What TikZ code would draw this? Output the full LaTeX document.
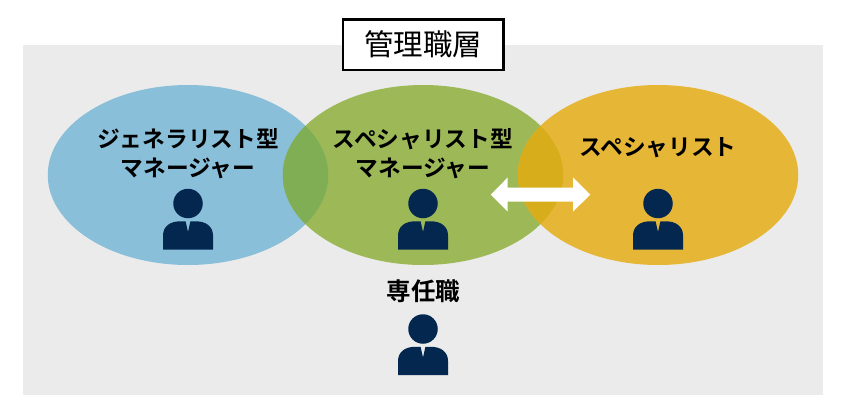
\documentclass[tikz,border=0pt]{standalone}
\usepackage{fontspec}
\setmainfont{Noto Sans CJK JP}
\newfontfamily\jpbold{Noto Sans CJK JP Bold}
\usetikzlibrary{shapes.geometric}
\definecolor{bgray}{HTML}{EBEBEB}
\definecolor{cblue}{HTML}{8ABFDA}
\definecolor{cgreen}{HTML}{9DB857}
\definecolor{cyellow}{HTML}{E6B737}
\definecolor{ovbg}{HTML}{80AE55}
\definecolor{ovgy}{HTML}{D8AD1C}
\definecolor{navy}{HTML}{03274F}
\newcommand{\personat}[3]{%
  \begin{scope}[shift={(#2,#3)}]
    \node[headdot] (#1) at (0,0) {};
    \fill[navy] (-25,46) -- (-25,32) .. controls (-25,23) and (-18,17.8) .. (-8,17.8)
      -- (-2.4,17.8) -- (0,28.5) -- (2.4,17.8) -- (8,17.8)
      .. controls (18,17.8) and (25,23) .. (25,32) -- (25,46) -- cycle;
  \end{scope}}
\tikzset{
  x=1pt,y=-1pt,
  headdot/.style={circle,fill=navy,minimum size=29.5pt,inner sep=0pt,draw=none},
  oval/.style={ellipse,minimum width=280.5pt,minimum height=180pt,inner sep=0pt,draw=none},
  lab/.style={font=\jpbold\fontsize{22.7}{29}\selectfont,align=center,text=black,inner sep=0pt},
}
\begin{document}
\begin{tikzpicture}
\useasboundingbox (0,0) rectangle (846,420);
\fill[white] (0,0) rectangle (846,420);
\fill[bgray] (23,45) rectangle (823,395);
\node[oval,fill=cblue] (general) at (188,175) {};
\node[oval,fill=cgreen] (mixed) at (423,175) {};
\node[oval,fill=cyellow] (special) at (658,175) {};
\begin{scope}
  \clip (188,175) ellipse [x radius=140.25,y radius=90];
  \fill[ovbg] (423,175) ellipse [x radius=140.25,y radius=90];
\end{scope}
\begin{scope}
  \clip (423,175) ellipse [x radius=140.25,y radius=90];
  \fill[ovgy] (658,175) ellipse [x radius=140.25,y radius=90];
\end{scope}
\node[draw=black,line width=2.5pt,fill=white,minimum width=160.5pt,minimum height=50.5pt,inner sep=0pt,
      font=\fontsize{29.5}{32}\selectfont] (title) at (423.3,44.7) {管理職層};
\node[lab] (t1) at (188,154) {ジェネラリスト型\\マネージャー};
\node[lab] (t2) at (423,154) {スペシャリスト型\\マネージャー};
\node[lab] (t3) at (658,147.5) {スペシャリスト};
\node[lab,font=\jpbold\fontsize{24.5}{29.5}\selectfont] (t4) at (423.5,291.5) {専任職};
\personat{p1}{188}{203.5}
\personat{p2}{423}{203.5}
\personat{p3}{658}{203.5}
\personat{p4}{423}{329}
\fill[white] (490.7,194.7) -- (507.7,177.5) -- (507.7,187.7) -- (573,187.7) -- (573,177.5)
  -- (590.3,194.7) -- (573,211.5) -- (573,201.7) -- (507.7,201.7) -- (507.7,211.5) -- cycle;
\end{tikzpicture}
\end{document}
